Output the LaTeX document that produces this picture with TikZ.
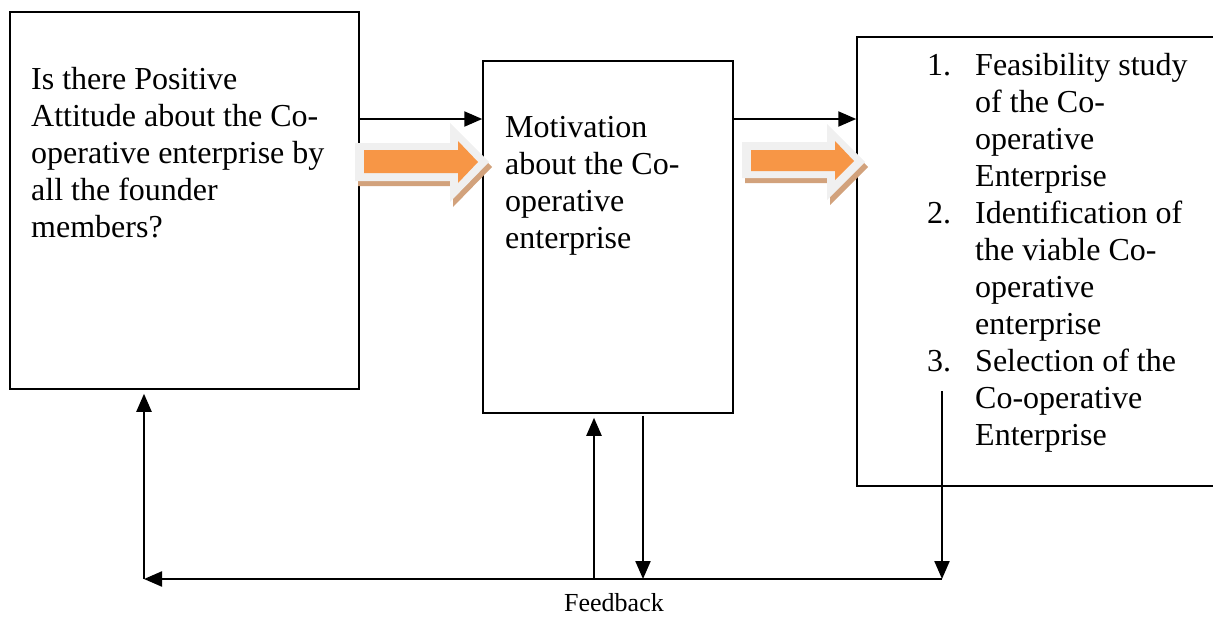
\documentclass[tikz,border=0pt]{standalone}
\usepackage{fontspec}
\setmainfont{Liberation Serif}
\usetikzlibrary{arrows.meta}
\definecolor{orangeA}{HTML}{F79646}
\definecolor{outlineA}{HTML}{F0F0F0}
\definecolor{shadowA}{HTML}{D2A27C}
\begin{document}
\begin{tikzpicture}[x=1pt,y=-1pt,
  box/.style={draw, line width=1.5pt, inner sep=0pt},
  conn/.style={line width=2.2pt, -{Triangle[length=18pt,width=15pt]}},
  txt/.style={font=\fontsize{32}{37}\selectfont, inner sep=0pt, anchor=base west},
  fbtxt/.style={font=\fontsize{26}{30}\selectfont, inner sep=0pt, anchor=base},
  fatshadow/.style={fill=shadowA},
  fatouter/.style={fill=outlineA},
  fatinner/.style={fill=orangeA}]
\useasboundingbox (0,0) rectangle (1213,616);

% boxes
\node[box, minimum width=349pt, minimum height=377pt] (b1) at (184.5,200.5) {};
\node[box, minimum width=250pt, minimum height=352pt] (b2) at (608,237) {};
\node[box, minimum width=357pt, minimum height=449pt] (b3) at (1035.5,261.5) {};

% box 1 text
\foreach \t [count=\i from 0] in {Is there Positive, Attitude about the Co-, operative enterprise by, all the founder, members?}
  \node[txt] (ta\i) at (31,89+37*\i) {\t};

% box 2 text
\foreach \t [count=\i from 0] in {Motivation, about the Co-, operative, enterprise}
  \node[txt] (tb\i) at (505,137+37*\i) {\t};

% box 3 text
\foreach \t [count=\i from 0] in {Feasibility study, of the Co-, operative, Enterprise, Identification of, the viable Co-, operative, enterprise, Selection of the, Co-operative, Enterprise}
  \node[txt] (tc\i) at (975,75+37*\i) {\t};
\node[txt] (n1) at (927,75) {1.};
\node[txt] (n2) at (927,223) {2.};
\node[txt] (n3) at (927,371) {3.};

% top black connectors
\coordinate (r1) at (0,119);
\draw[conn] (b1.east |- r1) -- (b2.west |- r1);
\draw[conn] (b2.east |- r1) -- (b3.west |- r1);

% orange block arrow 1
\fill[fatshadow, shift={(3,5)}] (355,143) -- (450,143) -- (450,123) -- (489,162) -- (450,202) -- (450,181) -- (355,181) -- cycle;
\fill[fatouter] (355,143) -- (450,143) -- (450,123) -- (489,162) -- (450,202) -- (450,181) -- (355,181) -- cycle;
\fill[fatinner] (364,150) -- (458,150) -- (458,141) -- (478,162) -- (458,183) -- (458,173) -- (364,173) -- cycle;

% orange block arrow 2
\fill[fatshadow, shift={(3,5)}] (742,142) -- (827,142) -- (827,124) -- (865,162) -- (827,200) -- (827,178) -- (742,178) -- cycle;
\fill[fatouter] (742,142) -- (827,142) -- (827,124) -- (865,162) -- (827,200) -- (827,178) -- (742,178) -- cycle;
\fill[fatinner] (751,150) -- (835,150) -- (835,141) -- (854,161) -- (835,180) -- (835,171) -- (751,171) -- cycle;

% feedback loop
\coordinate (fbL) at (144,579);
\coordinate (fbR) at (942,579);
\coordinate (s3) at (942,391);
\coordinate (u2) at (594,579);
\coordinate (d2) at (643,579);
\draw[conn] (s3) -- (fbR);
\draw[conn] (fbR) -- (fbL);
\draw[conn, shorten >=4pt] (fbL) -- (b1.south -| fbL);
\draw[conn, shorten >=4pt] (u2) -- (b2.south -| u2);
\draw[conn, shorten <=2pt] (b2.south -| d2) -- (d2);

\node[fbtxt] (fb) at (614,611.5) {Feedback};
\end{tikzpicture}
\end{document}
